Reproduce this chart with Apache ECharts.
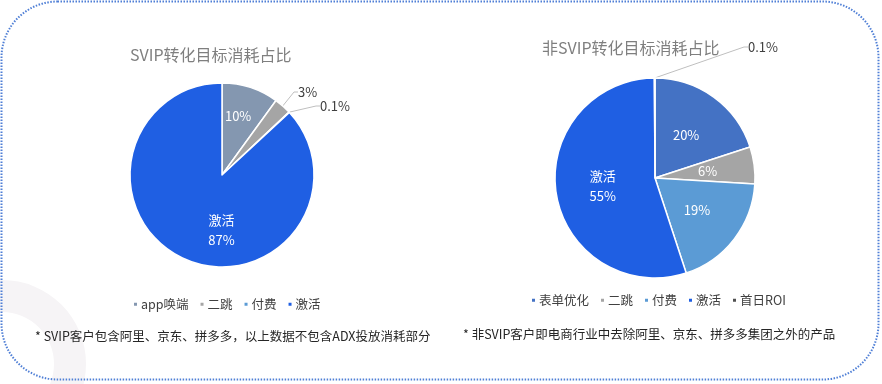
<!DOCTYPE html>
<html><head><meta charset="utf-8">
<script src="https://cdn.jsdelivr.net/npm/echarts@6/dist/echarts.min.js"></script>
<style>html,body{margin:0;padding:0;background:#fff}#c{width:882px;height:384px}</style>
</head><body><div id="c"></div>
<script>
const leftTitle = 'SVIP转化目标消耗占比';
const rightTitle = '非SVIP转化目标消耗占比';
const leftCats = ['app唤端', '二跳', '付费', '激活'];
const leftVals = [10, 3, 0.1, 87];
const rightCats = ['表单优化', '二跳', '付费', '激活', '首日ROI'];
const rightVals = [20, 6, 19, 55, 0.1];
const leftNote = '* SVIP客户包含阿里、京东、拼多多，以上数据不包含ADX投放消耗部分';
const rightNote = '* 非SVIP客户即电商行业中去除阿里、京东、拼多多集团之外的产品';

const FONT = '"Noto Sans CJK SC", "Noto Sans", sans-serif';
const colorMap = {
  'app唤端': '#8497B0', '二跳': '#A5A5A5', '付费': '#5B9BD5', '激活': '#1F5FE3',
  '表单优化': '#4472C4', '首日ROI': '#505050'
};
const outsideLeft = [1, 2];
const outsideRight = [4];

function makeData(cats, vals, outside) {
  return cats.map((n, i) => {
    const d = { name: n, value: vals[i], itemStyle: { color: colorMap[n] } };
    if (outside.indexOf(i) >= 0) {
      d.label = { position: 'outside', color: '#404040' };
      d.labelLine = { show: true, length: 8, length2: 4, lineStyle: { color: '#BFBFBF', width: 1 } };
    } else {
      d.label = { position: 'inside', color: '#fff' };
      d.labelLine = { show: false };
    }
    return d;
  });
}
function fmt(p) {
  return p.name === '激活' ? p.name + '\n' + p.value + '%' : p.value + '%';
}

// label placement (style only)
const labelPos = {
  '0-0': { dx: 1, dy: -12 },
  '0-3': { dx: 19, dy: 10 },
  '0-1': { x: 298, y: 92 },
  '0-2': { x: 320, y: 106 },
  '1-4': { x: 748, y: 47 }
};
function layoutFn(p) {
  const o = labelPos[p.seriesIndex + '-' + p.dataIndex];
  if (!o) return {};
  if (o.x != null) return { x: o.x, y: o.y, align: 'left', verticalAlign: 'middle' };
  return { dx: o.dx, dy: o.dy };
}
const legendText = { fontSize: 12.5, color: '#404040', fontFamily: FONT, padding: [0, 0, 0, -2] };

const chart = echarts.init(document.getElementById('c'));
chart.setOption({
  animation: false,
  textStyle: { fontFamily: FONT },
  title: [
    { text: leftTitle, left: 125, top: 42, textStyle: { fontSize: 16, fontWeight: 'normal', color: '#7F7F7F', fontFamily: FONT } },
    { text: rightTitle, left: 537, top: 35, textStyle: { fontSize: 16, fontWeight: 'normal', color: '#7F7F7F', fontFamily: FONT } }
  ],
  legend: [
    { data: leftCats, left: 132, top: 298, padding: 0, icon: 'rect', itemWidth: 5, itemHeight: 5, itemGap: 10,
      selectedMode: false, textStyle: legendText },
    { data: rightCats, left: 530, top: 294, padding: 0, icon: 'rect', itemWidth: 5, itemHeight: 5, itemGap: 10,
      selectedMode: false, textStyle: legendText }
  ],
  graphic: [
    { type: 'ring', z: -10, shape: { cx: 2, cy: 364, r: 84, r0: 52 }, style: { fill: '#F6F4F6' } },
    { type: 'rect', z: 100, shape: { x: 1.5, y: 1.5, width: 877, height: 378, r: 56 },
      style: { fill: null, stroke: '#4F7FD6', lineWidth: 2, lineDash: [1.5, 1.5] } },
    { type: 'text', left: 35, top: 330, style: { text: leftNote, fontSize: 12.5, fill: '#262626', fontFamily: FONT } },
    { type: 'text', left: 463, top: 328, style: { text: rightNote, fontSize: 12.5, fill: '#262626', fontFamily: FONT } }
  ],
  series: [
    {
      type: 'pie', center: [222, 175], radius: 92, startAngle: 90, clockwise: true,
      avoidLabelOverlap: false, silent: true,
      itemStyle: { borderColor: '#fff', borderWidth: 1.5 },
      label: { formatter: fmt, fontSize: 13, lineHeight: 20, fontFamily: FONT },
      labelLayout: layoutFn,
      data: makeData(leftCats, leftVals, outsideLeft)
    },
    {
      type: 'pie', center: [655, 178], radius: 100, startAngle: 90, clockwise: true,
      avoidLabelOverlap: false, silent: true,
      itemStyle: { borderColor: '#fff', borderWidth: 1.5 },
      label: { formatter: fmt, fontSize: 13, lineHeight: 20, fontFamily: FONT },
      labelLayout: layoutFn,
      data: makeData(rightCats, rightVals, outsideRight)
    }
  ]
});
</script>
</body></html>
